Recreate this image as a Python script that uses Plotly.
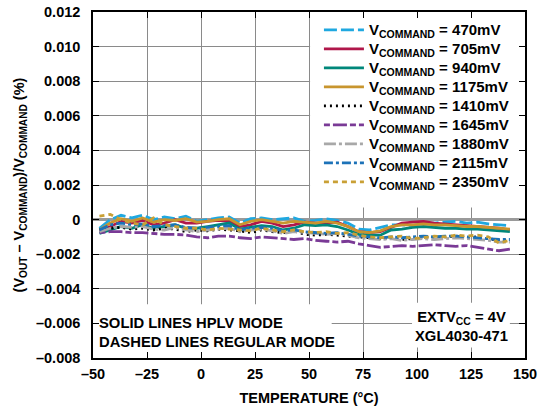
import plotly.graph_objects as go

temps = [-47, -42, -37, -32, -27, -22, -17, -12, -7, -2, 3, 8, 13, 18, 23, 28, 33, 38, 43,
         48, 53, 58, 63, 68, 73, 78, 83, 88, 93, 98, 103, 108, 113, 118, 123, 128, 133, 138, 143]

v470 = [-0.0005, 0.0, 0.00025, 0.0001, 0.00025, 0.0, 0.00015, 0.00005, 0.0002, -0.0001, 0.0, 0.0001, 0.00015,
        -0.0002, 0.00005, 0.0001, 0.0, 0.00005, 0.0001, -0.0001, -0.00005, 0.00005, -0.00005, -0.0002, -0.00055,
        -0.0006, -0.00045, -0.0003, -0.0003, -0.00035, -0.0002, -0.0002, -0.00015, -0.0001, -0.0002, -0.00015,
        -0.00025, -0.0003, -0.00035]
v705 = [-0.0007, -0.0004, -0.0001, -0.0002, -0.00005, -0.0003, -0.0002, 0.0, -0.0002, -0.0002, -0.0001, -0.00005,
        -0.0001, -0.0004, -0.0003, -0.0001, -0.0002, -0.0004, -0.0003, -0.00015, -0.0002, -0.0002, -0.00015,
        -0.0004, -0.0007, -0.00075, -0.0007, -0.00045, -0.0002, -0.00015, -0.0001, -0.0002, -0.00025, -0.0003,
        -0.00035, -0.0004, -0.00045, -0.0005, -0.0006]
v940 = [-0.0008, -0.0006, -0.0004, -0.0005, -0.0003, -0.0005, -0.0004, -0.0003, -0.0005, -0.0005, -0.0004, -0.0003,
        -0.0002, -0.00055, -0.00045, -0.00035, -0.0004, -0.0006, -0.0005, -0.0003, -0.00035, -0.0003, -0.0004,
        -0.0006, -0.00085, -0.0009, -0.0009, -0.0006, -0.00055, -0.00045, -0.0004, -0.00045, -0.0005, -0.0005,
        -0.00055, -0.00055, -0.0006, -0.00065, -0.0007]
v1175 = [-0.0006, -0.0002, 0.00005, -0.0001, 0.0001, -0.00015, 0.0, -0.00005, 0.00005, -0.00015, -0.0001, 0.0,
         0.00005, -0.0003, -0.0001, 0.0, -0.0001, -0.0002, -0.0001, -0.00015, -0.0002, -0.0001, -0.0002, -0.0004,
         -0.0007, -0.00075, -0.00065, -0.0004, -0.0003, -0.0003, -0.00025, -0.0003, -0.0003, -0.00035, -0.0004,
         -0.0004, -0.00045, -0.0005, -0.00055]
v1410 = [-0.0006, -0.0005, -0.00045, -0.00055, -0.0005, -0.0006, -0.0005, -0.00055, -0.0007, -0.0006, -0.00065,
         -0.00055, -0.0006, -0.00065, -0.00075, -0.0006, -0.0007, -0.00075, -0.00065, -0.00085, -0.0009, -0.00085,
         -0.0009, -0.00095, -0.001, -0.00105, -0.0011, -0.00105, -0.00115, -0.0011, -0.001, -0.00105, -0.001,
         -0.00095, -0.00105, -0.001, -0.0011, -0.0012, -0.0012]
v1645 = [-0.00075, -0.0007, -0.0007, -0.00075, -0.00075, -0.0008, -0.00085, -0.00085, -0.0009, -0.001, -0.00105,
         -0.00095, -0.00095, -0.00105, -0.0011, -0.001, -0.00105, -0.0011, -0.00115, -0.0011, -0.0012, -0.00125,
         -0.0013, -0.00125, -0.0014, -0.0015, -0.0016, -0.00155, -0.0015, -0.00155, -0.0015, -0.00145, -0.0015,
         -0.00155, -0.0015, -0.0016, -0.0017, -0.0018, -0.0017]
v1880 = [-0.0007, -0.0005, -0.0004, -0.00045, -0.0004, -0.00055, -0.0006, -0.00045, -0.0006, -0.0007, -0.0006,
         -0.00055, -0.0005, -0.0007, -0.0006, -0.00055, -0.00065, -0.0008, -0.0007, -0.00075, -0.0008, -0.00085,
         -0.0008, -0.0009, -0.00105, -0.0011, -0.00115, -0.0011, -0.0012, -0.00115, -0.0011, -0.00115, -0.0011,
         -0.00105, -0.0011, -0.00115, -0.0012, -0.0013, -0.0013]
v2115 = [-0.0006, -0.0003, -0.0002, -0.0003, -0.00025, -0.0004, -0.00035, -0.0003, -0.00045, -0.0005, -0.00045,
         -0.0004, -0.00035, -0.0006, -0.0005, -0.00045, -0.0005, -0.00065, -0.0006, -0.0007, -0.00075, -0.0008,
         -0.00075, -0.00085, -0.00095, -0.001, -0.00105, -0.001, -0.00105, -0.001, -0.00095, -0.001, -0.00095,
         -0.00095, -0.001, -0.00105, -0.0011, -0.00115, -0.00115]
v2350 = [0.0002, 0.0003, 0.0, -0.0002, -0.0003, 0.0001, -0.0003, -0.0004, -0.0005, -0.0005, -0.0006, -0.0005,
         -0.00055, -0.0006, -0.00065, -0.0005, -0.0006, -0.0007, -0.0006, -0.0007, -0.00075, -0.0007, -0.0008,
         -0.00075, -0.0009, -0.001, -0.00105, -0.001, -0.00095, -0.0011, -0.00105, -0.00095, -0.001, -0.0009,
         -0.00095, -0.0009, -0.001, -0.00135, -0.0012]

series_labels = ["470mV", "705mV", "940mV", "1175mV", "1410mV", "1645mV", "1880mV", "2115mV", "2350mV"]
series_values = [v470, v705, v940, v1175, v1410, v1645, v1880, v2115, v2350]
series_colors = ["#1FA8E0", "#B0174A", "#00877A", "#C8952E", "#000000", "#7A3A96", "#A8A8A8", "#1C72B8", "#C9A035"]
series_dash = ["13px,4px", "solid", "solid", "solid", "2px,4px", "6px,3px,14px,3px", "12px,3px,3px,3px",
               "9px,3px,3px,3px", "5px,4px"]

x_tickvals = [-50, -25, 0, 25, 50, 75, 100, 125, 150]
x_ticktext = ["–50", "–25", "0", "25", "50", "75", "100", "125", "150"]
y_tickvals = [0.012, 0.010, 0.008, 0.006, 0.004, 0.002, 0, -0.002, -0.004, -0.006, -0.008]
y_ticktext = ["0.012", "0.010", "0.008", "0.006", "0.004", "0.002", "0", "–0.002", "–0.004", "–0.006", "–0.008"]

FONT = "Liberation Sans, Arial, sans-serif"
FS = 14.5

def bfont(size=FS):
    return dict(family=FONT, size=size, color="black", weight="bold")

fig = go.Figure()
for lab, vals, col, dash in zip(series_labels, series_values, series_colors, series_dash):
    fig.add_trace(go.Scatter(
        x=temps, y=vals, mode="lines",
        name='<span style="font-size:15px">V<sub>COMMAND</sub> = ' + lab + '</span>',
        line=dict(color=col, width=2.8, dash=dash),
    ))

# white panels hiding the grid behind the legend and the two notes
panels = [
    dict(x0=50.5, x1=150, y0=0.0007, y1=0.012),
    dict(x0=-50, x1=60.5, y0=-0.008, y1=-0.0049),
    dict(x0=97.7, x1=143, y0=-0.0074, y1=-0.0048),
]
shapes = [dict(type="rect", xref="x", yref="y", layer="between", fillcolor="white",
               line=dict(width=0), **p) for p in panels]

fig.update_layout(
    width=538, height=410,
    margin=dict(l=93, r=13, t=12, b=52),
    paper_bgcolor="white", plot_bgcolor="white",
    font=bfont(),
    showlegend=True,
    shapes=shapes,
    legend=dict(
        x=0.523, y=0.99, xanchor="left", yanchor="top",
        bgcolor="rgba(0,0,0,0)", borderwidth=0,
        font=bfont(12),
        tracegroupgap=0, itemwidth=40,
    ),
    annotations=[
        dict(xref="paper", yref="paper", x=0.01, y=0.016, xanchor="left", yanchor="bottom",
             text="SOLID LINES HPLV MODE<br>DASHED LINES REGULAR MODE", align="left", showarrow=False,
             font=bfont(14.8)),
        dict(xref="paper", yref="paper", x=0.853, y=0.035, xanchor="center", yanchor="bottom",
             text="EXTV<sub>CC</sub> = 4V<br>XGL4030-471", align="center", showarrow=False,
             font=bfont(14.8)),
    ],
)

fig.update_xaxes(
    range=[-50, 150], tickvals=x_tickvals, ticktext=x_ticktext, automargin=False,
    showgrid=True, gridcolor="#8a8a8a", gridwidth=1,
    showline=True, linecolor="black", linewidth=1.5, mirror="ticks",
    ticks="inside", ticklen=6, tickcolor="black",
    zeroline=False, ticklabelstandoff=2,
    tickfont=bfont(),
    title=dict(text="TEMPERATURE (°C)", standoff=12, font=bfont()),
)
fig.update_yaxes(
    range=[-0.008, 0.012], tickvals=y_tickvals, ticktext=y_ticktext, automargin=False,
    showgrid=True, gridcolor="#8a8a8a", gridwidth=1,
    showline=True, linecolor="black", linewidth=1.5, mirror="ticks",
    ticks="inside", ticklen=6, tickcolor="black",
    zeroline=True, zerolinecolor="#9a9a9a", zerolinewidth=2.5,
    ticklabelstandoff=8,
    tickfont=bfont(),
    title=dict(text="(V<sub>OUT</sub> – V<sub>COMMAND</sub>)/V<sub>COMMAND</sub> (%)", standoff=8,
               font=bfont()),
)

fig.write_html("out.html")
